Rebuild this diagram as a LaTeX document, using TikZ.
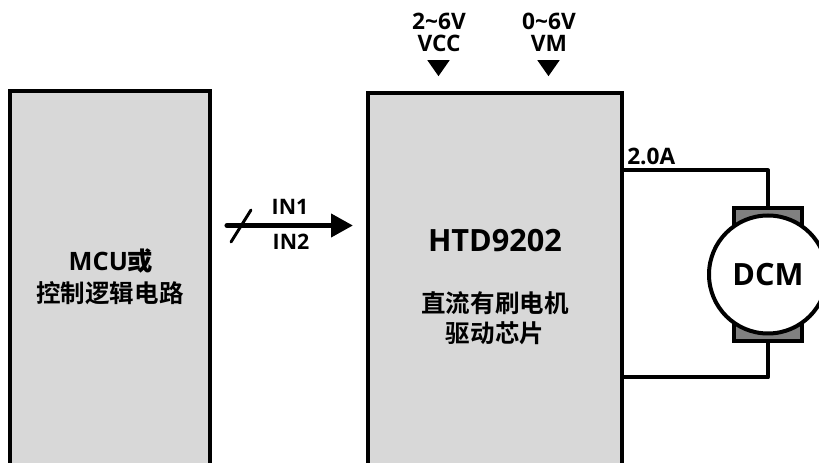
\documentclass[tikz,border=0pt]{standalone}
\usepackage{fontspec}
\setmainfont{Open Sans}[BoldFont={Open Sans Bold}]
\newfontfamily\cjk{Noto Sans CJK SC Bold}
\usetikzlibrary{arrows.meta,shapes.geometric}
\definecolor{boxgray}{HTML}{D8D8D8}
\definecolor{brushgray}{HTML}{808080}
\tikzset{
  block/.style={draw=black,line width=3pt,fill=boxgray,rectangle,inner sep=0pt,outer sep=0pt,anchor=north west},
  lab/.style={font=\bfseries\fontsize{16}{16.5}\selectfont,inner sep=0pt,align=center,text=black},
  toplab/.style={font=\bfseries\fontsize{17}{16.5}\selectfont,inner sep=0pt,align=center,text=black},
  clab/.style={font=\cjk\fontsize{18.4}{22.5}\selectfont,inner sep=0pt,align=center,text=black},
  wire/.style={line width=3pt,line join=round},
  tri/.style={isosceles triangle,isosceles triangle apex angle=70,shape border rotate=-90,fill=black,minimum height=12pt,inner sep=0pt},
}
\begin{document}
\begin{tikzpicture}[x=0.75pt,y=-0.75pt]
\useasboundingbox (0,0) rectangle (819,463);
\clip (0,0) rectangle (819,463);
\fill[white] (0,0) rectangle (819,463);
% blocks
\node[block,minimum width=150pt,minimum height=281pt] (mcu) at (10,91) {};
\node[block,minimum width=190.5pt,minimum height=279.5pt] (chip) at (368,93) {};
% motor
\coordinate (wt) at (768,170.5);
\coordinate (wb) at (768,377.5);
\coordinate (ct) at (622,170.5);
\coordinate (cb) at (622,377.5);
\node[draw=black,line width=3pt,fill=brushgray,minimum width=51pt,minimum height=100pt,inner sep=0pt,outer sep=0pt] (brush) at (768,274.5) {};
\draw[wire] (ct) -- (wt) -- (brush.north -| wt);
\draw[wire] (cb) -- (wb) -- (brush.south -| wb);
\node[circle,draw=black,line width=3pt,fill=white,minimum size=88.5pt,inner sep=0pt,outer sep=0pt] (dcm) at (768,274.5) {};
\node[lab,font=\bfseries\fontsize{23}{24}\selectfont] (dcmt) at (768,275) {DCM};
% input bus
\coordinate (as) at (227,225.5);
\coordinate (ae) at (353,225.5);
\coordinate (s1) at (231,242);
\coordinate (s2) at (251,210);
\draw[line width=3.8pt,line cap=round,-{Triangle[length=16.5pt,width=17pt]}] (as) -- (ae);
\draw[line width=2.2pt,line cap=round] (s1) -- (s2);
\node[lab] (in1) at (290,207) {IN1};
\node[lab] (in2) at (291,242) {IN2};
% supplies
\node[toplab] (vcc) at (439,32.5) {2\textasciitilde6V\\VCC};
\node[toplab] (vm) at (549,32.5) {0\textasciitilde6V\\VM};
\node[tri] (t1) at (438.5,66) {};
\node[tri] (t2) at (548.5,66) {};
% labels
\node[toplab,anchor=west] (amp) at (627,156) {2.0A};
\node[lab,font=\bfseries\fontsize{19}{22}\selectfont] (mcut) at (111,261) {MCU\hspace{0pt}{\cjk 或}};
\node[clab] (mcus) at (110,293) {控制逻辑电路};
\node[lab,font=\bfseries\fontsize{23}{24}\selectfont] (chipt) at (495,240.5) {HTD9202};
\node[clab] (chips) at (495,318) {直流有刷电机\\驱动芯片};
\end{tikzpicture}
\end{document}
